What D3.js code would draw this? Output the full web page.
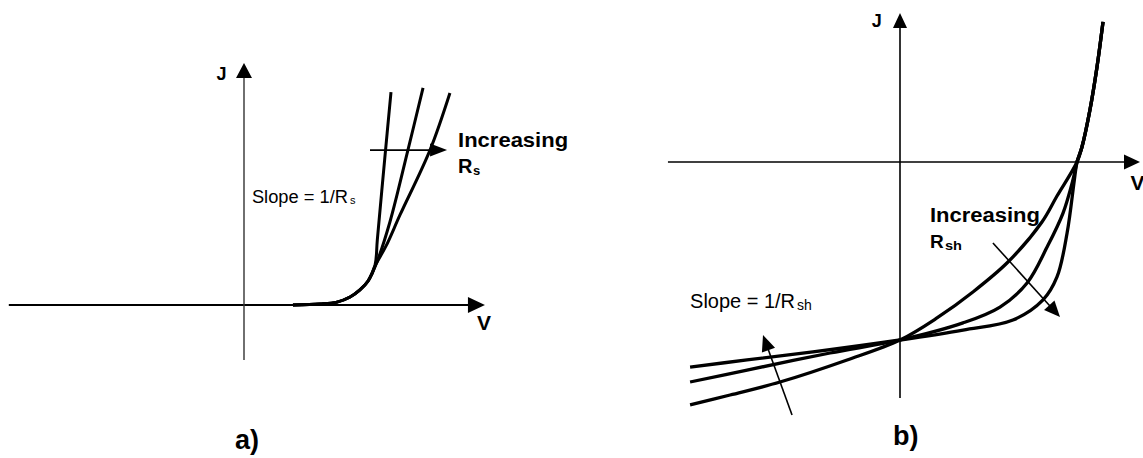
<!DOCTYPE html>
<html>
<head>
<meta charset="utf-8">
<script src="https://cdn.jsdelivr.net/npm/d3@7"></script>
<style>
  html, body { margin: 0; padding: 0; background: #fff; }
  svg { display: block; }
  text { font-family: "Liberation Sans", Arial, Helvetica, sans-serif; fill: #000; }
</style>
</head>
<body>
<svg id="chart" width="1143" height="458"></svg>
<script>
// ---- (a) effect of series resistance: [V, J] in normalised units ----
const rsLow  = [[0.204,0],[0.317,0.004],[0.3875,0.012],[0.442,0.033],[0.483,0.062],[0.517,0.099],
                [0.546,0.165],[0.5555,0.269],[0.586,0.60],[0.6125,0.88]];
const rsMid  = [[0.204,0],[0.317,0.004],[0.3875,0.012],[0.442,0.033],[0.483,0.062],[0.517,0.099],
                [0.554,0.178],[0.608,0.343],[0.683,0.640],[0.746,0.897]];
const rsHigh = [[0.204,0],[0.317,0.004],[0.3875,0.012],[0.442,0.033],[0.483,0.062],[0.517,0.099],
                [0.55,0.169],[0.592,0.244],[0.65,0.372],[0.775,0.640],[0.858,0.876]];

// ---- (b) effect of shunt resistance: [V, J] in normalised units (J = -1 at short circuit) ----
const rshLow  = [[-1.186,-1.365],[-0.960,-1.309],[-0.678,-1.236],[-0.299,-1.112],[0,-1],
                 [0.209,-0.876],[0.412,-0.730],[0.610,-0.562],[0.802,-0.337],[0.887,-0.191],
                 [1.0,0],[1.028,0.084],[1.073,0.292],[1.113,0.534],[1.147,0.787]];
const rshMid  = [[-1.186,-1.236],[-0.864,-1.169],[-0.395,-1.073],[0,-1],
                 [0.356,-0.904],[0.565,-0.815],[0.718,-0.680],[0.831,-0.478],[0.921,-0.287],[0.977,-0.101],
                 [1.0,0],[1.028,0.084],[1.073,0.292],[1.113,0.534],[1.147,0.787]];
const rshHigh = [[-1.186,-1.152],[-0.864,-1.112],[-0.492,-1.067],[0,-1],
                 [0.356,-0.944],[0.638,-0.888],[0.808,-0.775],[0.887,-0.646],[0.944,-0.399],[0.985,-0.101],
                 [1.0,0],[1.028,0.084],[1.073,0.292],[1.113,0.534],[1.147,0.787]];

// ---- text ----
const axisLabels = ["V", "J"];
const panelLabels = ["a)", "b)"];
const arrowLabel = "Increasing";
const slopeLabel = "Slope = 1/R";
const subRs = "s", subRsh = "sh";

const svg = d3.select("#chart");

// scales for each panel
const xA = d3.scaleLinear().domain([0, 1]).range([244, 484]);
const yA = d3.scaleLinear().domain([0, 1]).range([305, 63]);
const xB = d3.scaleLinear().domain([0, 1]).range([900, 1077]);
const yB = d3.scaleLinear().domain([-1, 0]).range([340, 162]);

// straight line ending in a filled triangular head
function arrow(g, x1, y1, x2, y2, width, head, halfW, color) {
  color = color || "#000";
  const a = Math.atan2(y2 - y1, x2 - x1);
  const bx = x2 - head * Math.cos(a), by = y2 - head * Math.sin(a);
  g.append("line")
    .attr("x1", x1).attr("y1", y1)
    .attr("x2", bx + 2 * Math.cos(a)).attr("y2", by + 2 * Math.sin(a))
    .attr("stroke", color).attr("stroke-width", width);
  const px = -Math.sin(a) * halfW, py = Math.cos(a) * halfW;
  g.append("path")
    .attr("d", `M${x2},${y2}L${bx + px},${by + py}L${bx - px},${by - py}Z`)
    .attr("fill", "#000");
}

function label(g, x, y, txt, size, bold, len) {
  const t = g.append("text")
    .attr("x", x).attr("y", y)
    .attr("font-size", size)
    .attr("font-weight", bold ? "bold" : "normal")
    .text(txt);
  if (len) t.attr("textLength", len).attr("lengthAdjust", "spacingAndGlyphs");
  return t;
}

// ================= panel (a) =================
const gA = svg.append("g");
// axes
arrow(gA, xA(-0.98), yA(0), xA(1.004), yA(0), 2, 17, 8);
arrow(gA, xA(0), yA(-0.227), xA(0), yA(1.0), 1.4, 15, 8, "#333");

const lineA = d3.line().x(d => xA(d[0])).y(d => yA(d[1])).curve(d3.curveCatmullRom.alpha(0.5));
gA.selectAll("path.curve")
  .data([rsHigh, rsMid, rsLow])
  .join("path")
  .attr("class", "curve")
  .attr("d", lineA)
  .attr("fill", "none")
  .attr("stroke", "#000")
  .attr("stroke-width", 3)
  .attr("stroke-linejoin", "round");

// increasing Rs arrow
arrow(gA, xA(0.525), yA(0.640), xA(0.846), yA(0.640), 1.6, 17, 6.5);

label(gA, xA(-0.115), yA(0.93), axisLabels[1], 18, true);
label(gA, xA(0.971), yA(-0.103), axisLabels[0], 21, true);
label(gA, xA(0.892), yA(0.653), arrowLabel, 21, true, 110);
label(gA, xA(0.892), yA(0.545), "R", 20, true);
label(gA, xA(0.954), yA(0.537), subRs, 13, true);
label(gA, xA(0.033), yA(0.421), slopeLabel, 18, false, 96);
label(gA, xA(0.442), yA(0.417), subRs, 11, false);
label(gA, xA(-0.0375), yA(-0.595), panelLabels[0], 27, true);

// ================= panel (b) =================
const gB = svg.append("g");
arrow(gB, xB(-1.311), yB(0), xB(1.356), yB(0), 1.6, 16, 7.5);
arrow(gB, xB(0), yB(-1.326), xB(0), yB(0.837), 1.6, 15, 7);

const lineB = d3.line().x(d => xB(d[0])).y(d => yB(d[1])).curve(d3.curveCatmullRom.alpha(0.5));
gB.selectAll("path.curve")
  .data([rshLow, rshMid, rshHigh])
  .join("path")
  .attr("class", "curve")
  .attr("d", lineB)
  .attr("fill", "none")
  .attr("stroke", "#000")
  .attr("stroke-width", 3.3)
  .attr("stroke-linejoin", "round");

// increasing Rsh arrows
arrow(gB, xB(0.525), yB(-0.455), xB(0.904), yB(-0.871), 1.6, 16, 7);
arrow(gB, xB(-0.610), yB(-1.421), xB(-0.774), yB(-0.972), 1.6, 16, 7);

label(gB, xB(-0.16), yB(0.758), axisLabels[1], 18, true);
label(gB, xB(1.302), yB(-0.157), axisLabels[0], 21, true);
label(gB, xB(0.169), yB(-0.337), arrowLabel, 20, true, 110);
label(gB, xB(0.169), yB(-0.483), "R", 19, true);
label(gB, xB(0.254), yB(-0.494), subRsh, 13, true, 17);
label(gB, xB(-1.186), yB(-0.820), slopeLabel, 20, false, 105);
label(gB, xB(-0.582), yB(-0.831), subRsh, 14, false);
label(gB, xB(-0.040), yB(-1.590), panelLabels[1], 27, true);
</script>
</body>
</html>
